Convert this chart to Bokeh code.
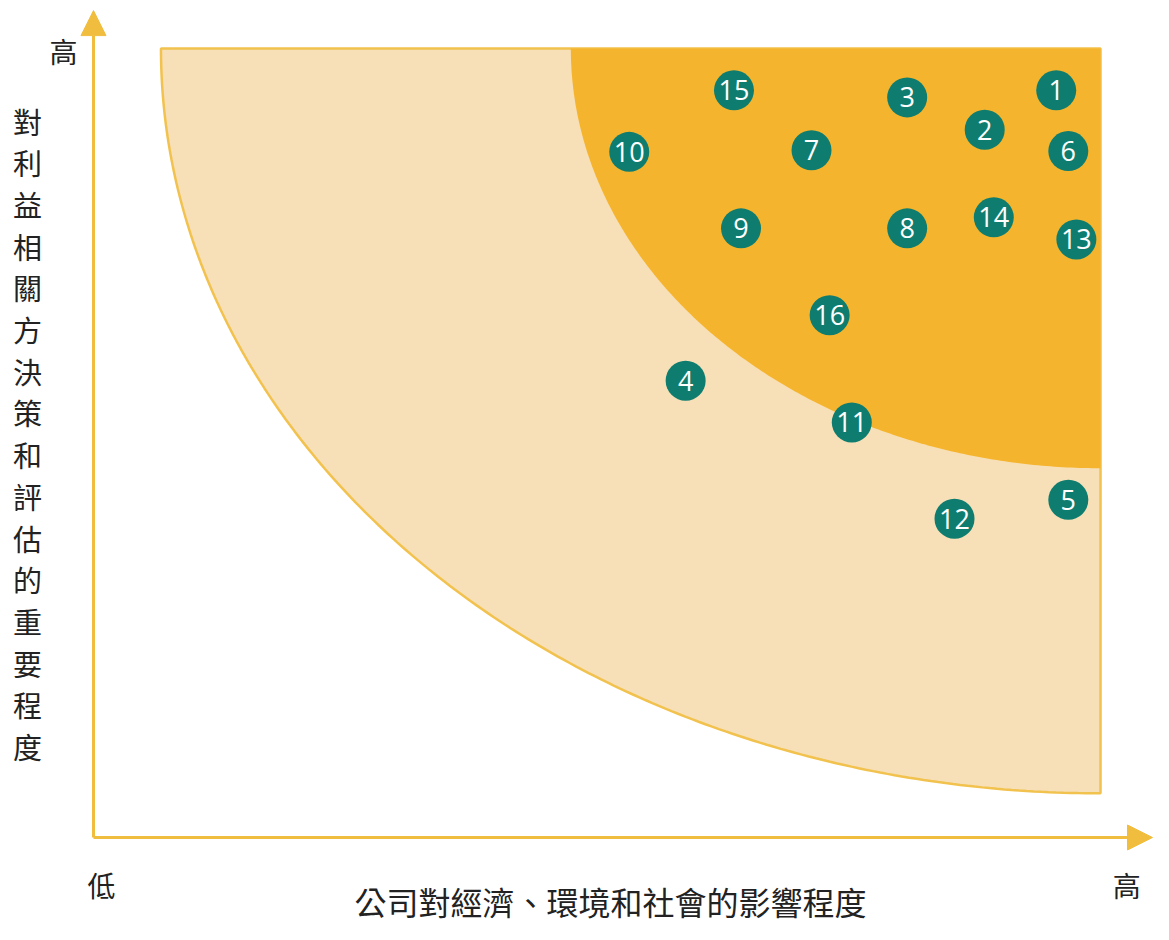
import numpy as np
from bokeh.plotting import figure
from bokeh.models import Range1d, Arrow, NormalHead, ColumnDataSource
from bokeh.core.properties import value
from bokeh.embed import file_html
from bokeh.resources import INLINE

# ---------------- data ----------------
topic_ids = ["1", "2", "3", "4", "5", "6", "7", "8",
             "9", "10", "11", "12", "13", "14", "15", "16"]
impact = [9.56, 8.85, 8.08, 5.88, 9.68, 9.68, 7.13, 8.08,
          6.43, 5.32, 7.53, 8.55, 9.76, 8.94, 6.36, 7.31]
importance = [9.47, 8.97, 9.38, 5.79, 4.28, 8.70, 8.71, 7.72,
              7.72, 8.69, 5.26, 4.04, 7.58, 7.86, 9.47, 6.62]

y_axis_title = "對利益相關方決策和評估的重要程度"
x_axis_title = "公司對經濟、環境和社會的影響程度"
low_label = "低"
high_label = "高"

# zones (quarter ellipses anchored at the top-right corner)
zone_corner = (10.0, 10.0)
outer_radii = (9.33, 9.44)
inner_radii = (5.26, 5.32)

# ---------------- styles ----------------
TEAL = "#0E7D6F"
DARK = "#F5B42D"
LIGHT = "#F7DFB7"
BORDER = "#F2C24E"
AXIS = "#F1BD3F"
TXT = "#222222"
CJK = "Noto Sans CJK TC"

p = figure(width=1153, height=924, output_backend="svg", toolbar_location=None,
           x_range=Range1d(-0.9235, 10.526), y_range=Range1d(-1.1027, 10.608),
           min_border=0)
p.axis.visible = False
p.grid.visible = False
p.outline_line_color = None
p.background_fill_color = "white"


def zone(radii):
    t = np.linspace(np.pi, 1.5 * np.pi, 200)
    xs = list(zone_corner[0] + radii[0] * np.cos(t)) + [zone_corner[0]]
    ys = list(zone_corner[1] + radii[1] * np.sin(t)) + [zone_corner[1]]
    return xs, ys


ox, oy = zone(outer_radii)
p.patch(ox, oy, fill_color=LIGHT, line_color=BORDER, line_width=2.5)
ix, iy = zone(inner_radii)
p.patch(ix, iy, fill_color=DARK, line_color=None)

# axes with arrows
p.add_layout(Arrow(x_start=0, y_start=0, x_end=0, y_end=10.48,
                   line_color=AXIS, line_width=3,
                   end=NormalHead(size=25, fill_color=AXIS, line_color=AXIS)))
p.add_layout(Arrow(x_start=0, y_start=0, x_end=10.516, y_end=0,
                   line_color=AXIS, line_width=3,
                   end=NormalHead(size=25, fill_color=AXIS, line_color=AXIS)))

# markers
src = ColumnDataSource(dict(x=impact, y=importance, t=topic_ids))
p.scatter("x", "y", source=src, size=40, fill_color=TEAL, line_color=None)
p.text("x", "y", text="t", source=src, text_align="center", text_baseline="middle",
       text_color="white", text_font=value("Open Sans"), text_font_size=value("27px"))

# axis texts
p.text([-0.298], [9.97], text=[high_label], text_align="center", text_baseline="middle",
       text_color=TXT, text_font=value(CJK), text_font_size=value("28px"))
p.text([0.079], [-0.608], text=[low_label], text_align="center", text_baseline="middle",
       text_color=TXT, text_font=value(CJK), text_font_size=value("28px"))
p.text([10.26], [-0.608], text=[high_label], text_align="center", text_baseline="middle",
       text_color=TXT, text_font=value(CJK), text_font_size=value("28px"))
p.text([5.134], [-0.80], text=[x_axis_title], text_align="center", text_baseline="middle",
       text_color=TXT, text_font=value(CJK), text_font_size=value("32px"))

chars = list(y_axis_title)
y_top, y_step = 9.087, 0.5285
p.text([-0.655] * len(chars), [y_top - i * y_step for i in range(len(chars))], text=chars,
       text_align="center", text_baseline="middle",
       text_color=TXT, text_font=value(CJK), text_font_size=value("29px"))

open("out.html", "w").write(file_html(p, INLINE))
